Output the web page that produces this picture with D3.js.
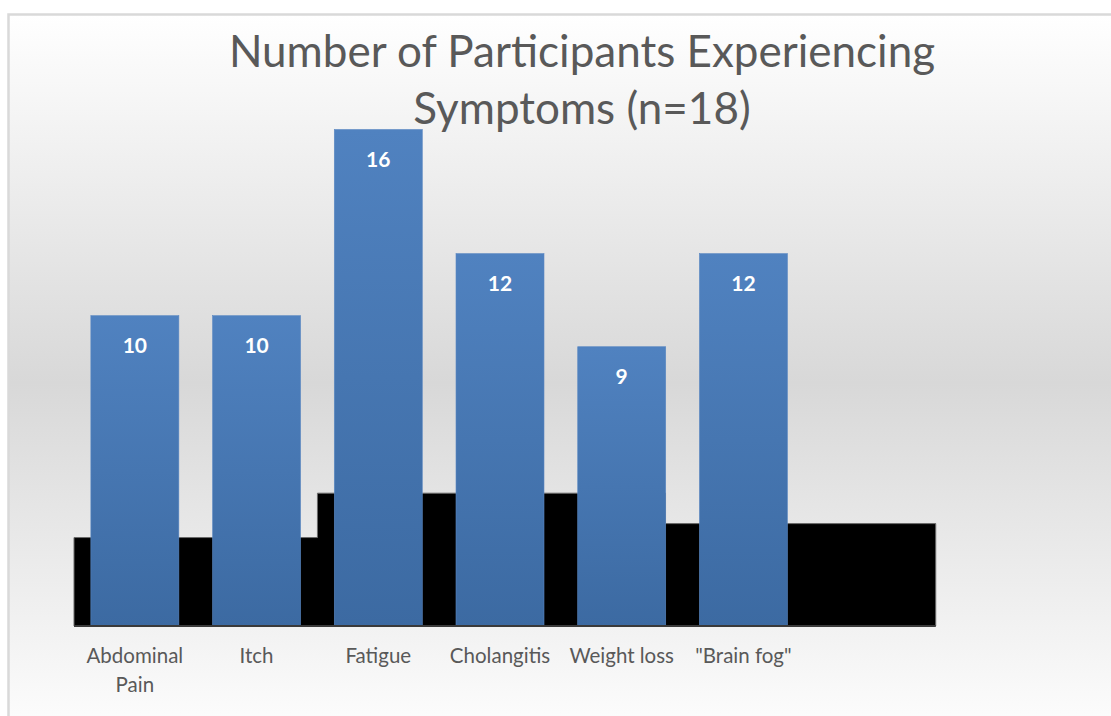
<!DOCTYPE html>
<html>
<head>
<meta charset="utf-8">
<script src="https://cdn.jsdelivr.net/npm/d3@7"></script>
<style>
  html, body { margin: 0; padding: 0; background: #ffffff; }
  svg { display: block; }
</style>
</head>
<body>
<svg id="chart" width="1111" height="716"></svg>
<script>
// Symptom counts among participants
const titleLines = ["Number of Participants Experiencing", "Symptoms (n=18)"];
const categories = ["Abdominal Pain", "Itch", "Fatigue", "Cholangitis", "Weight loss", "\"Brain fog\"", ""];
const values = [10, 10, 16, 12, 9, 12];
// Black backdrop steps behind the bars: edges in category units, levels in value units
const backdropEdges = [0, 2, 4.86, 7.08];
const backdropLevels = [2.85, 4.28, 3.3];

const svg = d3.select("#chart");
const W = 1111, H = 716;
const plot = { left: 74, right: 926, top: 129.5, bottom: 626 };
const fontFamily = "Lato, 'Open Sans', sans-serif";

const defs = svg.append("defs");
const bg = defs.append("linearGradient").attr("id", "bgGrad")
  .attr("x1", 0).attr("y1", 0).attr("x2", 0).attr("y2", 1);
bg.append("stop").attr("offset", "0%").attr("stop-color", "#ffffff");
bg.append("stop").attr("offset", "50%").attr("stop-color", "#d8d8d8");
bg.append("stop").attr("offset", "100%").attr("stop-color", "#ffffff");

const barGrad = defs.append("linearGradient").attr("id", "barGrad")
  .attr("x1", 0).attr("y1", 0).attr("x2", 0).attr("y2", 1);
barGrad.append("stop").attr("offset", "0%").attr("stop-color", "#5082c0");
barGrad.append("stop").attr("offset", "100%").attr("stop-color", "#3c6aa2");

// Chart frame with vertical gradient fill
svg.append("rect")
  .attr("x", 8.5).attr("y", 14.5)
  .attr("width", W + 20).attr("height", H + 20)
  .attr("fill", "url(#bgGrad)")
  .attr("stroke", "#d9d9d9").attr("stroke-width", 2.5);

// Scales
const x = d3.scaleBand()
  .domain(categories.map((c, i) => i))
  .range([plot.left, plot.right])
  .paddingInner(0.277)
  .paddingOuter(0.1385);
const xUnits = d3.scaleLinear().domain([0, categories.length]).range([plot.left, plot.right]);
const y = d3.scaleLinear().domain([0, 16]).range([plot.bottom, plot.top]);

// Backdrop step area
const steps = [];
backdropLevels.forEach((lv, i) => {
  steps.push([backdropEdges[i], lv]);
  steps.push([backdropEdges[i + 1], lv]);
});
const area = d3.area()
  .x(d => xUnits(d[0]))
  .y0(y(0))
  .y1(d => y(d[1]));
svg.append("path")
  .datum(steps)
  .attr("d", area)
  .attr("fill", "#000000")
  .attr("stroke", "#6b6b6b")
  .attr("stroke-width", 1);

// Bars
const data = values.map((v, i) => ({ i, v }));
svg.append("g").selectAll("rect")
  .data(data)
  .join("rect")
  .attr("x", d => x(d.i))
  .attr("y", d => y(d.v))
  .attr("width", x.bandwidth())
  .attr("height", d => y(0) - y(d.v))
  .attr("fill", "url(#barGrad)")
  .attr("stroke", "#5b88c2")
  .attr("stroke-width", 0.6);

// Value labels
svg.append("g").selectAll("text")
  .data(data)
  .join("text")
  .attr("x", d => x(d.i) + x.bandwidth() / 2)
  .attr("y", d => y(d.v) + 37)
  .attr("text-anchor", "middle")
  .attr("font-family", fontFamily)
  .attr("font-weight", "bold")
  .attr("font-size", 21)
  .attr("fill", "#ffffff")
  .text(d => d.v);

// Baseline
svg.append("line")
  .attr("x1", xUnits(0)).attr("x2", xUnits(backdropEdges[backdropEdges.length - 1]))
  .attr("y1", y(0)).attr("y2", y(0))
  .attr("stroke", "#3a3a3a").attr("stroke-width", 2);

// Category labels, wrapped to the band step
const axis = d3.axisBottom(x).tickSize(0).tickPadding(0).tickFormat(i => categories[i]);
const gx = svg.append("g").attr("transform", `translate(0,${y(0)})`).call(axis);
gx.select(".domain").remove();
gx.selectAll("text")
  .attr("font-family", fontFamily)
  .attr("font-size", 20.5)
  .attr("fill", "#595959")
  .attr("dy", null)
  .attr("y", 37)
  .each(function () {
    const t = d3.select(this);
    const words = t.text().split(/\s+/).filter(Boolean);
    const maxW = x.step() - 4;
    t.text(null);
    let line = [];
    let lineNo = 0;
    let tspan = t.append("tspan").attr("x", 0).attr("y", 37);
    words.forEach(w => {
      line.push(w);
      tspan.text(line.join(" "));
      if (tspan.node().getComputedTextLength() > maxW && line.length > 1) {
        line.pop();
        tspan.text(line.join(" "));
        line = [w];
        lineNo += 1;
        tspan = t.append("tspan").attr("x", 0).attr("y", 37 + lineNo * 29).text(w);
      }
    });
  });

// Title
svg.append("g").selectAll("text")
  .data(titleLines)
  .join("text")
  .attr("x", 582)
  .attr("y", (d, i) => 67 + i * 57)
  .attr("text-anchor", "middle")
  .attr("font-family", fontFamily)
  .attr("font-size", 44)
  .attr("fill", "#595959")
  .text(d => d);
</script>
</body>
</html>
